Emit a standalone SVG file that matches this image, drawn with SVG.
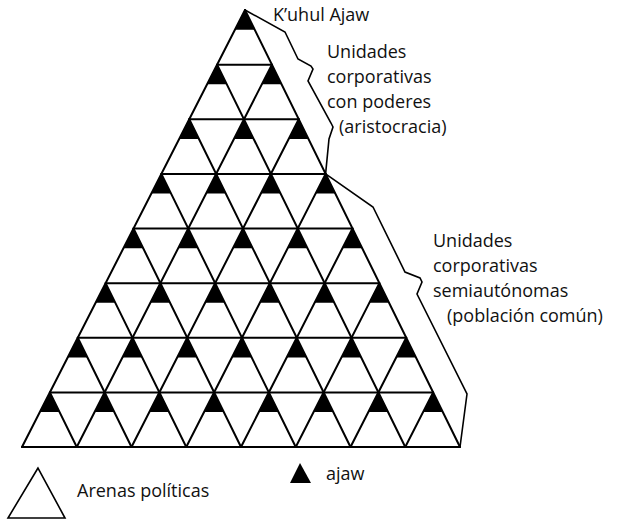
<svg xmlns="http://www.w3.org/2000/svg" xmlns:xlink="http://www.w3.org/1999/xlink" width="628" height="527" viewBox="0 0 628 527">
<style>
.grid{stroke:#000;stroke-width:2;fill:none;stroke-linecap:round}
.brk{stroke:#000;stroke-width:1.6;fill:none;stroke-linejoin:miter}
.lbl{font-family:"Open Sans","Noto Sans","Liberation Sans",sans-serif;font-size:18px;fill:#111}
.aj{fill:#000}
</style>
<defs>
<path id="b" d="M0,0 L-10,19.7 L9.7,19.7Z"/>
</defs>
<rect width="628" height="527" fill="#fff"/>
<g id="connectors">
<g id="grid" class="grid">
<line x1="217.125" y1="64.625" x2="271.875" y2="64.625"/>
<line x1="189.25" y1="119.25" x2="298.75" y2="119.25"/>
<line x1="161.375" y1="173.875" x2="325.625" y2="173.875"/>
<line x1="133.5" y1="228.5" x2="352.5" y2="228.5"/>
<line x1="105.625" y1="283.125" x2="379.375" y2="283.125"/>
<line x1="77.75" y1="337.75" x2="406.25" y2="337.75"/>
<line x1="49.875" y1="392.375" x2="433.125" y2="392.375"/>
<line x1="22" y1="447" x2="460" y2="447"/>
<line x1="245" y1="10" x2="22" y2="447"/>
<line x1="271.875" y1="64.625" x2="76.75" y2="447"/>
<line x1="298.75" y1="119.25" x2="131.5" y2="447"/>
<line x1="325.625" y1="173.875" x2="186.25" y2="447"/>
<line x1="352.5" y1="228.5" x2="241" y2="447"/>
<line x1="379.375" y1="283.125" x2="295.75" y2="447"/>
<line x1="406.25" y1="337.75" x2="350.5" y2="447"/>
<line x1="433.125" y1="392.375" x2="405.25" y2="447"/>
<line x1="245" y1="10" x2="460" y2="447"/>
<line x1="217.125" y1="64.625" x2="405.25" y2="447"/>
<line x1="189.25" y1="119.25" x2="350.5" y2="447"/>
<line x1="161.375" y1="173.875" x2="295.75" y2="447"/>
<line x1="133.5" y1="228.5" x2="241" y2="447"/>
<line x1="105.625" y1="283.125" x2="186.25" y2="447"/>
<line x1="77.75" y1="337.75" x2="131.5" y2="447"/>
<line x1="49.875" y1="392.375" x2="76.75" y2="447"/>
</g>
<path id="bracket-upper" class="brk" d="M245,10 L285,32 L298,59 L311,66 L313,69 L308,81 L331,123 L333,127 L329,139 L325.6,173.9"/>
<path id="bracket-lower" class="brk" d="M325.6,173.9 L373,207 L405,272 L420,278 L422,282 L417,294 L467,394 L460,447"/>
</g>
<g id="ajaw-marks" class="aj">
<use xlink:href="#b" x="245" y="10"/>
<use xlink:href="#b" x="217.125" y="64.625"/><use xlink:href="#b" x="271.875" y="64.625"/>
<use xlink:href="#b" x="189.25" y="119.25"/><use xlink:href="#b" x="244" y="119.25"/><use xlink:href="#b" x="298.75" y="119.25"/>
<use xlink:href="#b" x="161.375" y="173.875"/><use xlink:href="#b" x="216.125" y="173.875"/><use xlink:href="#b" x="270.875" y="173.875"/><use xlink:href="#b" x="325.625" y="173.875"/>
<use xlink:href="#b" x="133.5" y="228.5"/><use xlink:href="#b" x="188.25" y="228.5"/><use xlink:href="#b" x="243" y="228.5"/><use xlink:href="#b" x="297.75" y="228.5"/><use xlink:href="#b" x="352.5" y="228.5"/>
<use xlink:href="#b" x="105.625" y="283.125"/><use xlink:href="#b" x="160.375" y="283.125"/><use xlink:href="#b" x="215.125" y="283.125"/><use xlink:href="#b" x="269.875" y="283.125"/><use xlink:href="#b" x="324.625" y="283.125"/><use xlink:href="#b" x="379.375" y="283.125"/>
<use xlink:href="#b" x="77.75" y="337.75"/><use xlink:href="#b" x="132.5" y="337.75"/><use xlink:href="#b" x="187.25" y="337.75"/><use xlink:href="#b" x="242" y="337.75"/><use xlink:href="#b" x="296.75" y="337.75"/><use xlink:href="#b" x="351.5" y="337.75"/><use xlink:href="#b" x="406.25" y="337.75"/>
<use xlink:href="#b" x="49.875" y="392.375"/><use xlink:href="#b" x="104.625" y="392.375"/><use xlink:href="#b" x="159.375" y="392.375"/><use xlink:href="#b" x="214.125" y="392.375"/><use xlink:href="#b" x="268.875" y="392.375"/><use xlink:href="#b" x="323.625" y="392.375"/><use xlink:href="#b" x="378.375" y="392.375"/><use xlink:href="#b" x="433.125" y="392.375"/>
</g>
<g id="label-kuhul">
<text class="lbl" x="273" y="21">K’uhul Ajaw</text>
</g>
<g id="label-aristocracia">
<text class="lbl" x="327" y="58">Unidades</text>
<text class="lbl" x="327" y="83">corporativas</text>
<text class="lbl" x="327" y="108">con poderes</text>
<text class="lbl" x="339" y="133">(aristocracia)</text>
</g>
<g id="label-comun">
<text class="lbl" x="433" y="247">Unidades</text>
<text class="lbl" x="433" y="272">corporativas</text>
<text class="lbl" x="433" y="297">semiautónomas</text>
<text class="lbl" x="447" y="322">(población común)</text>
</g>
<g id="legend-arenas">
<path d="M38,468 L8,518 L65,518Z" fill="#fff" stroke="#000" stroke-width="1.6"/>
<text class="lbl" x="77" y="497">Arenas políticas</text>
</g>
<g id="legend-ajaw">
<path d="M300,463 L290,483 L311,483Z" fill="#000"/>
<text class="lbl" x="326" y="480">ajaw</text>
</g>
</svg>
